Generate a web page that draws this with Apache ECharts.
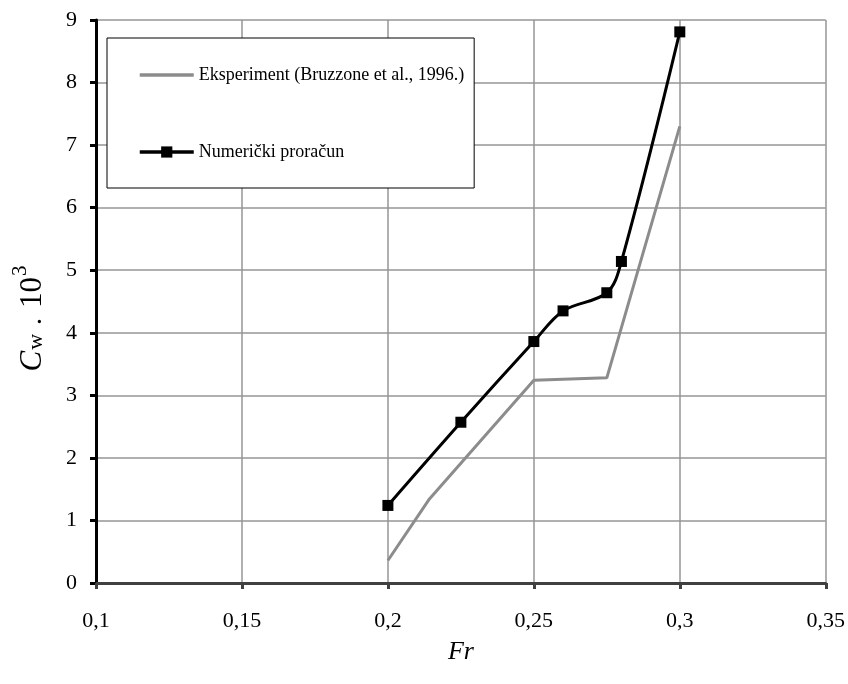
<!DOCTYPE html>
<html>
<head>
<meta charset="utf-8">
<script src="https://cdn.jsdelivr.net/npm/echarts@6/dist/echarts.min.js"></script>
<style>html,body{margin:0;padding:0;background:#fff}#c{width:848px;height:684px}</style>
</head>
<body>
<div id="c"></div>
<script>
var xTicks = [0.1, 0.15, 0.2, 0.25, 0.3, 0.35];
var yTicks = [0, 1, 2, 3, 4, 5, 6, 7, 8, 9];
var expName = 'Eksperiment (Bruzzone et al., 1996.)';
var expFr = [0.2, 0.214, 0.25, 0.275, 0.3];
var expCw = [0.36, 1.33, 3.24, 3.28, 7.30];
var numName = 'Numerički proračun';
var numFr = [0.2, 0.225, 0.25, 0.26, 0.275, 0.28, 0.3];
var numCw = [1.24, 2.57, 3.86, 4.35, 4.64, 5.14, 8.81];

function pairs(xs, ys){ return xs.map(function(x,i){ return [x, ys[i]]; }); }
var font = 'Liberation Serif';
var chart = echarts.init(document.getElementById('c'), null, {renderer:'canvas'});
chart.setOption({
  animation:false,
  backgroundColor:'#fff',
  grid:{left:96, right:22, top:20, bottom:101, containLabel:false},
  xAxis:{
    type:'value', min:xTicks[0], max:xTicks[xTicks.length-1], interval:0.05,
    name:'Fr', nameLocation:'middle', nameGap:56,
    nameTextStyle:{fontFamily:font, fontStyle:'italic', fontSize:26, color:'#000'},
    axisLine:{show:true, onZero:false, lineStyle:{color:'#404040', width:3}},
    axisTick:{show:true, length:6, lineStyle:{color:'#404040', width:3}},
    axisLabel:{fontFamily:font, fontSize:22, color:'#000', margin:27,
      formatter:function(v){ return String(Math.round(v*100)/100).replace('.', ','); }},
    splitLine:{show:true, lineStyle:{color:'#969696', width:1.5}}
  },
  yAxis:{
    type:'value', min:yTicks[0], max:yTicks[yTicks.length-1], interval:1,
    name:'{c|C}{w|w}{d|.}{n|10}{s|3}', nameLocation:'middle', nameGap:48, nameRotate:90,
    nameTextStyle:{
      rich:{
        c:{fontFamily:font, fontStyle:'italic', fontSize:31, color:'#000', verticalAlign:'bottom', lineHeight:38},
        w:{fontFamily:font, fontSize:22, color:'#000', verticalAlign:'bottom', lineHeight:38, padding:[0,9,1,1]},
        d:{fontFamily:font, fontSize:28, color:'#000', verticalAlign:'bottom', lineHeight:38, padding:[0,10,0,0]},
        n:{fontFamily:font, fontSize:31, color:'#000', verticalAlign:'bottom', lineHeight:38},
        s:{fontFamily:font, fontSize:21, color:'#000', verticalAlign:'top', lineHeight:38, padding:[0,34,0,1]}
      }
    },
    axisLine:{show:true, lineStyle:{color:'#000', width:3}},
    axisTick:{show:true, length:6, lineStyle:{color:'#000', width:3}},
    axisLabel:{fontFamily:font, fontSize:22, color:'#000', margin:19},
    splitLine:{show:true, lineStyle:{color:'#969696', width:1.5}}
  },
  legend:{
    orient:'vertical', left:107, top:38,
    backgroundColor:'#fff', borderColor:'#000', borderWidth:1, borderRadius:0,
    padding:[28, 10, 27, 31],
    itemWidth:54, itemHeight:14, itemGap:59,
    textStyle:{fontFamily:font, fontSize:18, color:'#000'},
    data:[{name:expName, itemStyle:{opacity:0}, lineStyle:{width:3.5}},
          {name:numName, lineStyle:{width:3.5}}]
  },
  series:[
    {name:expName, type:'line', data:pairs(expFr, expCw), showSymbol:false, symbol:'none',
     lineStyle:{color:'#8c8c8c', width:3}, itemStyle:{color:'#8c8c8c'}},
    {name:numName, type:'line', data:pairs(numFr, numCw), smooth:0.35,
     symbol:'rect', symbolSize:11,
     lineStyle:{color:'#000', width:3}, itemStyle:{color:'#000'}}
  ]
});
</script>
</body>
</html>
